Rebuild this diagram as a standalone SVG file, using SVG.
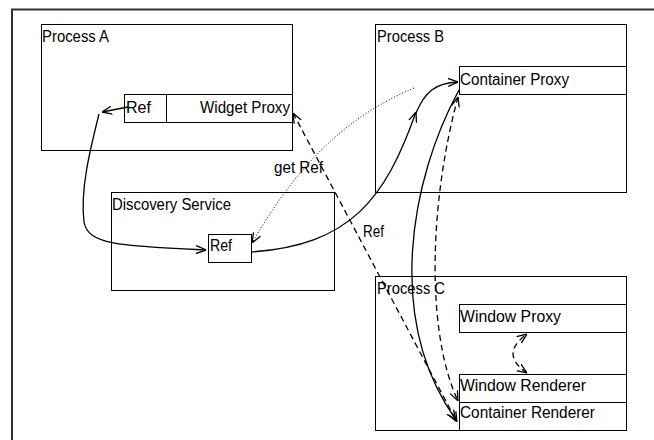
<svg xmlns="http://www.w3.org/2000/svg" width="654" height="440" viewBox="0 0 654 440">
<style>
.box{fill:#fff;stroke:#000;stroke-width:1}
.frame{fill:none;stroke:#333;stroke-width:2}
.t{font-family:"Liberation Sans",Arial,sans-serif;font-size:16px;fill:#000}
.c{fill:none;stroke:#000;stroke-width:1.3}
.dash{stroke-dasharray:6,4}
.dot{stroke-dasharray:1,2;stroke-width:1}
</style>
<defs>
<marker id="arr" viewBox="0 0 10 10" refX="10" refY="5" markerWidth="10" markerHeight="10" orient="auto-start-reverse" markerUnits="userSpaceOnUse">
<path d="M0,1 L10,5 L0,9" fill="none" stroke="#000" stroke-width="1.3"/>
</marker>
</defs>
<rect class="frame" x="12" y="9.5" width="700" height="500"/>
<g id="processA">
<rect class="box" x="41.5" y="24.5" width="251" height="126"/>
<text class="t" x="42" y="42" textLength="67" lengthAdjust="spacingAndGlyphs">Process A</text>
</g>
<g id="refA">
<rect class="box" x="124.5" y="94.5" width="42" height="28"/>
<text class="t" x="126" y="113" textLength="25" lengthAdjust="spacingAndGlyphs">Ref</text>
</g>
<g id="widgetProxy">
<rect class="box" x="166.5" y="94.5" width="126" height="28"/>
<text class="t" x="200" y="113" textLength="90" lengthAdjust="spacingAndGlyphs">Widget Proxy</text>
</g>
<g id="processB">
<rect class="box" x="375.5" y="24.5" width="251" height="168"/>
<text class="t" x="377" y="42" textLength="67" lengthAdjust="spacingAndGlyphs">Process B</text>
</g>
<g id="containerProxy">
<rect class="box" x="459.5" y="66.5" width="167" height="28"/>
<text class="t" x="460" y="85" textLength="109" lengthAdjust="spacingAndGlyphs">Container Proxy</text>
</g>
<g id="discovery">
<rect class="box" x="111.5" y="192.5" width="223" height="98"/>
<text class="t" x="112" y="210" textLength="119" lengthAdjust="spacingAndGlyphs">Discovery Service</text>
</g>
<g id="refD">
<rect class="box" x="208.5" y="234.5" width="43" height="28"/>
<text class="t" x="210" y="251" textLength="22" lengthAdjust="spacingAndGlyphs">Ref</text>
</g>
<g id="processC">
<rect class="box" x="375.5" y="276.5" width="251" height="154"/>
<text class="t" x="377" y="294" textLength="68" lengthAdjust="spacingAndGlyphs">Process C</text>
</g>
<g id="windowProxy">
<rect class="box" x="459.5" y="304.5" width="167" height="28"/>
<text class="t" x="460" y="322" textLength="101" lengthAdjust="spacingAndGlyphs">Window Proxy</text>
</g>
<g id="windowRenderer">
<rect class="box" x="459.5" y="374.5" width="167" height="28"/>
<text class="t" x="460" y="391" textLength="126" lengthAdjust="spacingAndGlyphs">Window Renderer</text>
</g>
<g id="containerRenderer">
<rect class="box" x="459.5" y="402.5" width="167" height="28"/>
<text class="t" x="460" y="418" textLength="135" lengthAdjust="spacingAndGlyphs">Container Renderer</text>
</g>
<g id="connectors">
<path class="c" d="M128,107 L102,112" marker-end="url(#arr)"/>
<path class="c" d="M99,114 C90,150 80,190 84,222 C88,245 120,246 206,250" marker-end="url(#arr)"/>
<path class="c" d="M251,252 C350,245 385,200 416,112" marker-end="url(#arr)"/>
<path class="c" d="M416,113 C425,92 435,83 458,82" marker-end="url(#arr)"/>
<path class="c dot" d="M414,88 C350,115 300,160 252,243" marker-end="url(#arr)"/>
<path class="c dash" d="M293,113 L457,422" marker-start="url(#arr)" marker-end="url(#arr)"/>
<path class="c" d="M459,90 C410,180 385,320 456,420" marker-end="url(#arr)"/>
<path class="c dash" d="M458,97 C430,200 425,330 458,401" marker-start="url(#arr)" marker-end="url(#arr)"/>
<path class="c dash" d="M527,373 C505,358 512,345 527,334" marker-start="url(#arr)" marker-end="url(#arr)"/>
<text class="t" x="274" y="173" textLength="49" lengthAdjust="spacingAndGlyphs">get Ref</text>
<text class="t" x="363" y="237" textLength="21" lengthAdjust="spacingAndGlyphs">Ref</text>
</g>
</svg>
